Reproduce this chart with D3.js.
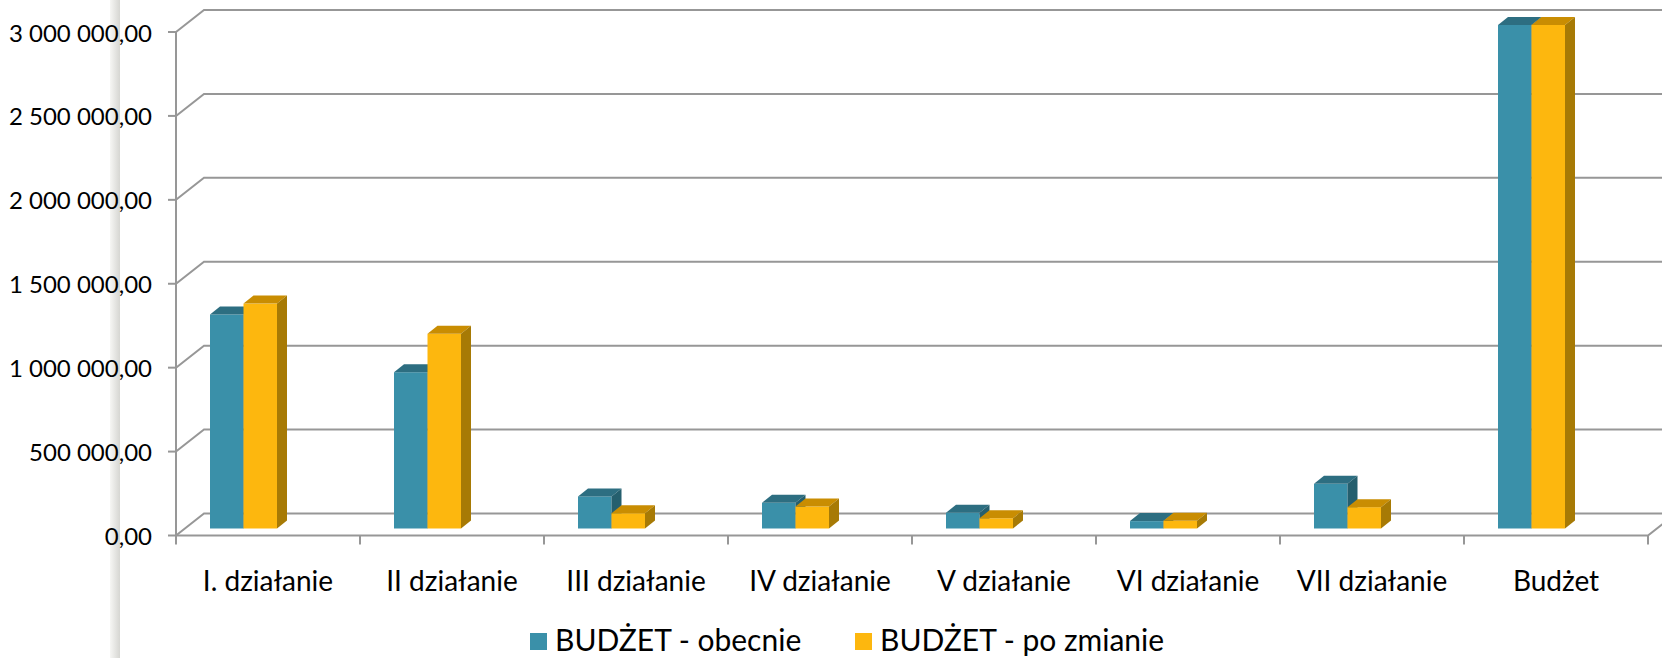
<!DOCTYPE html>
<html>
<head>
<meta charset="utf-8">
<script src="https://cdn.jsdelivr.net/npm/d3@7"></script>
<style>
  html, body { margin: 0; padding: 0; background: #fff; }
  svg text { font-family: "Gill Sans", "Gill Sans MT", Lato, sans-serif; fill: #000; }
</style>
</head>
<body>
<svg id="chart" width="1662" height="658"></svg>
<script>
// chart data
var categories = ["I. działanie", "II działanie", "III działanie", "IV działanie", "V działanie", "VI działanie", "VII działanie", "Budżet"];
var seriesNames = ["BUDŻET - obecnie", "BUDŻET - po zmianie"];
var obecnie = [1275000, 931000, 191000, 153000, 94000, 44000, 266000, 3000000];
var poZmianie = [1340000, 1160000, 91000, 131000, 61000, 46000, 127000, 3000000];
var yTicks = [0, 500000, 1000000, 1500000, 2000000, 2500000, 3000000];

// colours: front, top, side
var seriesColors = [
  {front: "#3a90a9", top: "#2d6e81", side: "#255f6e"},
  {front: "#fdb70e", top: "#c98d02", side: "#a77a05"}
];

var svg = d3.select("#chart");

// plot layout (3d box drawn in oblique projection)
var plotL = 176, plotR = 1648, plotT = 32, plotB = 535.5;
var depthX = 28, depthY = -22;        // wall depth
var barDX = 10, barDY = -8;           // bar depth
var barLiftX = 9, barLiftY = -7;      // bars sit inside the box depth

var x = d3.scaleBand().domain(categories).range([plotL, plotR]).padding(0);
var xs = d3.scaleBand().domain(seriesNames).range([25, 25 + 67]).padding(0);
var y = d3.scaleLinear().domain([0, 3000000]).range([plotB, plotT]);

var loc = d3.formatLocale({decimal: ",", thousands: " ", grouping: [3], currency: ["", ""]});
var fmt = loc.format(",.2f");

// grey slide strip on the left
var defs = svg.append("defs");
var grad = defs.append("linearGradient").attr("id", "strip").attr("x1", 0).attr("x2", 1);
grad.append("stop").attr("offset", "0%").attr("stop-color", "#f6f6f4");
grad.append("stop").attr("offset", "100%").attr("stop-color", "#d6d6d2");
svg.append("rect").attr("x", 110).attr("y", 0).attr("width", 10).attr("height", 658).attr("fill", "url(#strip)");

var grid = svg.append("g").attr("stroke", "#979797").attr("stroke-width", 2).attr("fill", "none");

// gridlines on back wall + diagonals on side wall
yTicks.forEach(function(t){
  var yy = y(t);
  grid.append("path").attr("d", "M" + plotL + "," + yy + "L" + (plotL + depthX) + "," + (yy + depthY) + "L1662," + (yy + depthY));
  grid.append("line").attr("x1", plotL - 8).attr("x2", plotL).attr("y1", yy).attr("y2", yy);
});
// vertical axis
grid.append("line").attr("x1", plotL).attr("x2", plotL).attr("y1", y(3000000)).attr("y2", y(0));
// floor front edge
grid.append("path").attr("d", "M" + plotL + "," + y(0) + "L" + plotR + "," + y(0) + "L" + (plotR + depthX) + "," + (y(0) + depthY));
// category ticks
d3.range(categories.length + 1).forEach(function(i){
  var xx = plotL + i * x.bandwidth();
  grid.append("line").attr("x1", xx).attr("x2", xx).attr("y1", y(0)).attr("y2", y(0) + 9);
});

// y labels
svg.append("g").selectAll("text").data(yTicks).enter().append("text")
  .attr("x", 152).attr("y", function(d){ return y(d); })
  .attr("text-anchor", "end").attr("dominant-baseline", "central")
  .style("font-size", "24px")
  .text(function(d){ return fmt(d); });

// bars
var rows = [];
categories.forEach(function(c, i){
  rows.push({cat: c, s: 0, v: obecnie[i]});
  rows.push({cat: c, s: 1, v: poZmianie[i]});
});

var bars = svg.append("g").selectAll("g").data(rows).enter().append("g");
bars.each(function(d){
  var g = d3.select(this);
  var w = xs.bandwidth();
  var x0 = x(d.cat) + xs(seriesNames[d.s]) + barLiftX;
  var yb = y(0) + barLiftY;
  var yt = y(d.v) + barLiftY;
  var col = seriesColors[d.s];
  g.append("rect").attr("x", x0).attr("y", yt).attr("width", w).attr("height", yb - yt)
    .attr("fill", col.front);
  g.append("path").attr("fill", col.top)
    .attr("d", "M" + x0 + "," + yt + "L" + (x0 + w) + "," + yt + "L" + (x0 + w + barDX) + "," + (yt + barDY) + "L" + (x0 + barDX) + "," + (yt + barDY) + "Z");
  g.append("path").attr("fill", col.side)
    .attr("d", "M" + (x0 + w) + "," + yt + "L" + (x0 + w + barDX) + "," + (yt + barDY) + "L" + (x0 + w + barDX) + "," + (yb + barDY) + "L" + (x0 + w) + "," + yb + "Z");
});

// category labels
svg.append("g").selectAll("text").data(categories).enter().append("text")
  .attr("x", function(d){ return x(d) + x.bandwidth() / 2; })
  .attr("y", 580)
  .attr("text-anchor", "middle").attr("dominant-baseline", "central")
  .style("font-size", "28px")
  .text(function(d){ return d; });

// legend
var legendX = [530, 855];
var lg = svg.append("g").selectAll("g").data(seriesNames).enter().append("g")
  .attr("transform", function(d, i){ return "translate(" + legendX[i] + ",0)"; });
lg.append("rect").attr("x", 0).attr("y", 633).attr("width", 17).attr("height", 17)
  .attr("fill", function(d, i){ return seriesColors[i].front; });
lg.append("text").attr("x", 25).attr("y", 651)
  .style("font-size", "30px")
  .text(function(d){ return d; });
</script>
</body>
</html>
